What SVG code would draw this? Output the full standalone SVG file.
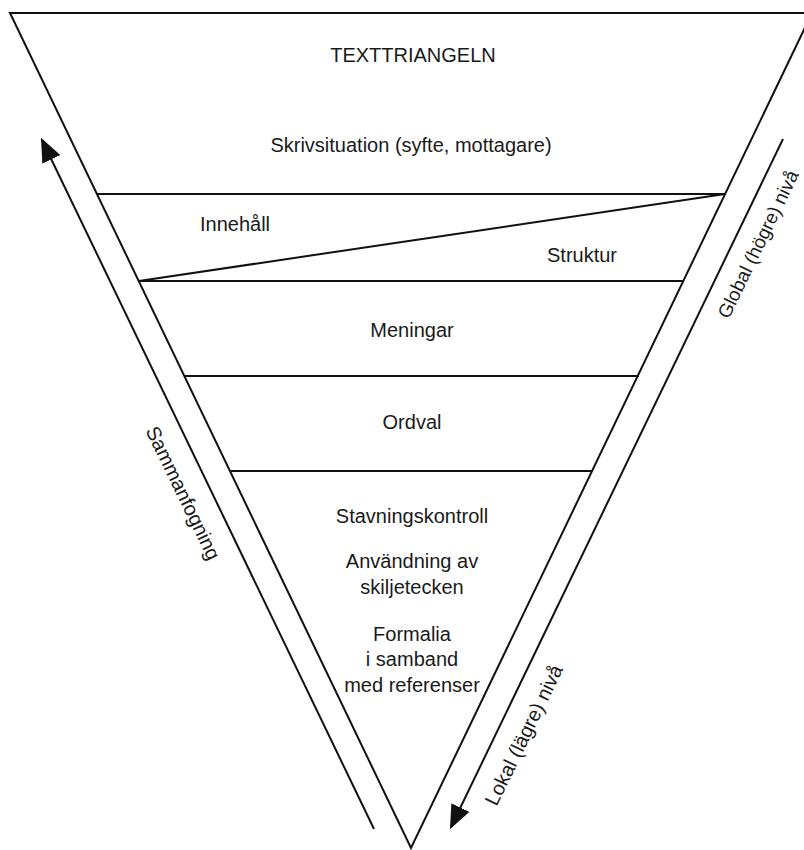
<svg xmlns="http://www.w3.org/2000/svg" width="804" height="850" viewBox="0 0 804 850">
<style>
.ln{stroke:#111;stroke-width:2;fill:none}
.t{font-family:"Liberation Sans",Arial,sans-serif;font-size:20px;fill:#1a1a1a;text-anchor:middle}
.r{font-size:19px}
</style>
<defs>
<marker id="ahb" viewBox="0 0 10 10" refX="9" refY="5" markerWidth="24" markerHeight="20" markerUnits="userSpaceOnUse" orient="auto" preserveAspectRatio="none">
<path d="M0,0 L10,5 L0,10 Z" fill="#111"/>
</marker>
</defs>
<rect width="804" height="850" fill="#fff"/>
<g id="triangle">
<polygon class="ln" points="10,13 812,13 411,848"/>
</g>
<g id="layers">
<line class="ln" x1="97" y1="194" x2="725" y2="194"/>
<line class="ln" x1="139" y1="281" x2="725" y2="194"/>
<line class="ln" x1="139" y1="281" x2="684" y2="281"/>
<line class="ln" x1="185" y1="376" x2="639" y2="376"/>
<line class="ln" x1="231" y1="471" x2="593" y2="471"/>
</g>
<g id="connectors">
<line class="ln" x1="374" y1="829" x2="42" y2="140" marker-end="url(#ahb)"/>
<line class="ln" x1="783" y1="139" x2="451" y2="827" marker-end="url(#ahb)"/>
</g>
<g id="labels">
<text class="t" x="413" y="62">TEXTTRIANGELN</text>
<text class="t" x="411" y="152">Skrivsituation (syfte, mottagare)</text>
<text class="t" x="235" y="231">Innehåll</text>
<text class="t" x="582" y="262">Struktur</text>
<text class="t" x="412" y="337">Meningar</text>
<text class="t" x="412" y="429">Ordval</text>
<text class="t" x="412" y="523">Stavningskontroll</text>
<text class="t" x="412" y="568">Användning av</text>
<text class="t" x="412" y="594">skiljetecken</text>
<text class="t" x="412" y="641">Formalia</text>
<text class="t" x="412" y="666">i samband</text>
<text class="t" x="412" y="692">med referenser</text>
<text class="t" transform="translate(177,496) rotate(64.2)">Sammanfogning</text>
<text class="t r" transform="translate(764,247) rotate(-64.2)">Global (högre) nivå</text>
<text class="t" transform="translate(530,738) rotate(-64.2)">Lokal (lägre) nivå</text>
</g>
</svg>
